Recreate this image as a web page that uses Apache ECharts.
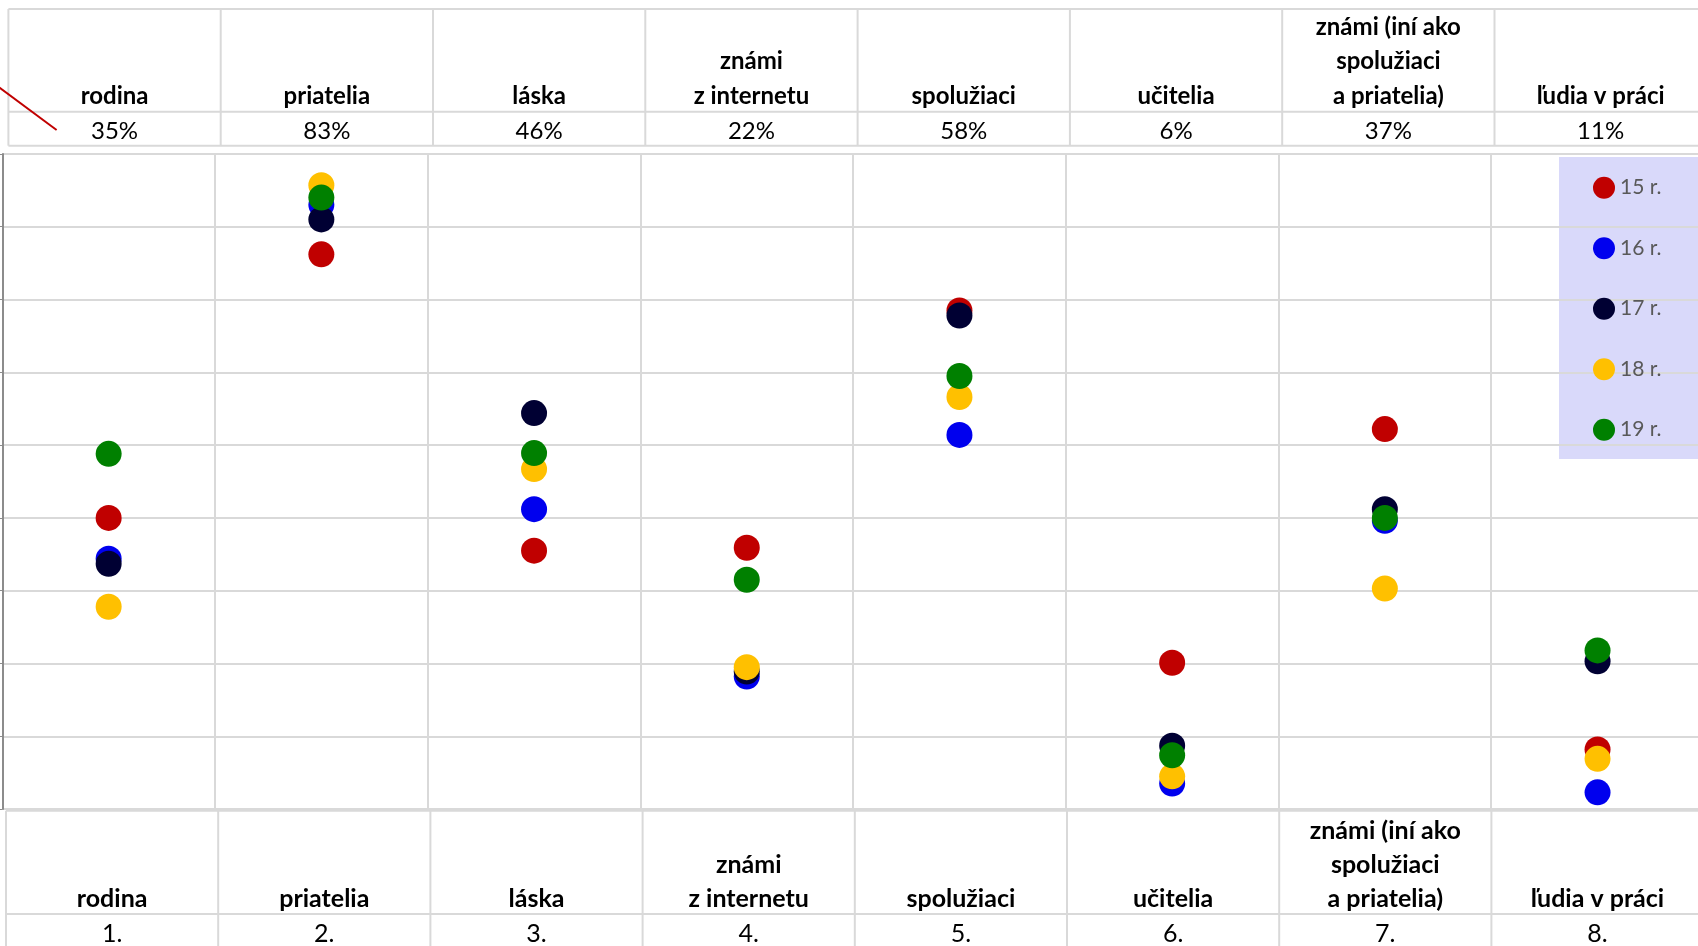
<!DOCTYPE html>
<html><head><meta charset="utf-8">
<script src="https://cdn.jsdelivr.net/npm/echarts@6/dist/echarts.min.js"></script>
<style>html,body{margin:0;padding:0;background:#fff;overflow:hidden;width:1698px;height:946px}#c{width:1720px;height:946px}</style>
</head><body><div id="c"></div>
<script>
// ---- data ----
const categories = ['rodina', 'priatelia', 'láska', 'známi\nz internetu', 'spolužiaci', 'učitelia', 'známi (iní ako\nspolužiaci\na priatelia)', 'ľudia v práci'];
const shares = ['35%', '83%', '46%', '22%', '58%', '6%', '37%', '11%'];
const ranks = ['1.', '2.', '3.', '4.', '5.', '6.', '7.', '8.'];
const seriesNames = ['15 r.', '16 r.', '17 r.', '18 r.', '19 r.'];
const age15 = [40.0, 76.2, 35.5, 35.9, 68.5, 20.1, 52.2, 8.2];
const age16 = [34.4, 83.0, 41.2, 18.2, 51.4, 3.5, 39.6, 2.3];
const age17 = [33.7, 81.0, 54.4, 18.9, 67.8, 8.7, 41.2, 20.3];
const age18 = [27.8, 85.7, 46.7, 19.5, 56.6, 4.5, 30.3, 6.9];
const age19 = [48.8, 84.0, 48.9, 31.5, 59.5, 7.4, 40.0, 21.8];
const yMin = 0, yMax = 90, yStep = 10;

// ---- styling ----
const colors = ['#c00000', '#0000ee', '#000033', '#ffc000', '#008000'];
const seriesData = [age15, age16, age17, age18, age19];
const FONT = 'Lato, "Open Sans", sans-serif';
const gridCol = '#d9d9d9';

const chart = echarts.init(document.getElementById('c'), null, {renderer: 'canvas'});

const graphics = [];
const tL = 8.4, tW = 212.3, tTop = 9, tMid = 111.7, tBot = 145.7;
const bL = 6, bW = 212.2, bTop = 810.7, bMid = 914, bBot = 960;
function hline(x1, x2, y) { graphics.push({type: 'line', silent: true, shape: {x1, y1: y, x2, y2: y}, style: {stroke: gridCol, lineWidth: 2}}); }
function vline(x, y1, y2) { graphics.push({type: 'line', silent: true, shape: {x1: x, y1, x2: x, y2}, style: {stroke: gridCol, lineWidth: 2}}); }
[tTop, tMid, tBot].forEach(y => hline(tL, 1720, y));
[bTop, bMid].forEach(y => hline(bL, 1720, y));
for (let i = 0; i <= categories.length; i++) {
  vline(tL + i * tW, tTop, tBot);
  vline(bL + i * bW, bTop, bBot);
}
categories.forEach((c, i) => {
  graphics.push({type: 'text', silent: true, style: {text: c, x: tL + (i + 0.5) * tW, y: 113.5, align: 'center', verticalAlign: 'bottom', font: 'bold 24px ' + FONT, lineHeight: 34.5, fill: '#000'}});
  graphics.push({type: 'text', silent: true, style: {text: shares[i], x: tL + (i + 0.5) * tW, y: 131, align: 'center', verticalAlign: 'middle', font: '24px ' + FONT, fill: '#000'}});
  graphics.push({type: 'text', silent: true, style: {text: c, x: bL + (i + 0.5) * bW, y: 916, align: 'center', verticalAlign: 'bottom', font: 'bold 25px ' + FONT, lineHeight: 34, fill: '#000'}});
  graphics.push({type: 'text', silent: true, style: {text: ranks[i], x: bL + (i + 0.5) * bW, y: 934, align: 'center', verticalAlign: 'middle', font: '25px ' + FONT, fill: '#000'}});
});
graphics.push({type: 'line', silent: true, shape: {x1: -4, y1: 85, x2: 56.6, y2: 130}, style: {stroke: '#c00000', lineWidth: 2}});
graphics.push({type: 'rect', silent: true, z: -1, shape: {x: 1559, y: 157, width: 160, height: 302}, style: {fill: '#d9d9fa'}});

const option = {
  backgroundColor: '#ffffff',
  animation: false,
  color: colors,
  grid: {left: 2.3, top: 153.9, width: 1701.6, height: 655.2, containLabel: false},
  xAxis: {
    type: 'category', data: categories, boundaryGap: true,
    axisLine: {show: false}, axisTick: {show: false}, axisLabel: {show: false},
    splitLine: {show: true, lineStyle: {color: gridCol, width: 2}}
  },
  yAxis: {
    type: 'value', min: yMin, max: yMax, interval: yStep,
    axisLine: {show: true, lineStyle: {color: '#8c8c8c', width: 2}},
    axisTick: {show: true, length: 3, lineStyle: {color: '#8c8c8c', width: 1}},
    axisLabel: {show: false},
    splitLine: {show: true, lineStyle: {color: gridCol, width: 2}}
  },
  legend: {
    orient: 'vertical', left: 1593, top: 176.7, padding: 0,
    itemWidth: 22, itemHeight: 22, itemGap: 38.5, icon: 'circle',
    textStyle: {fontFamily: FONT, fontSize: 21, color: '#595959'},
    data: seriesNames
  },
  graphic: graphics,
  series: seriesNames.map((n, k) => ({
    name: n, type: 'scatter', symbol: 'circle', symbolSize: 26,
    itemStyle: {color: colors[k], opacity: 1},
    data: seriesData[k], z: 2 + k
  }))
};
chart.setOption(option);
</script>
</body></html>
